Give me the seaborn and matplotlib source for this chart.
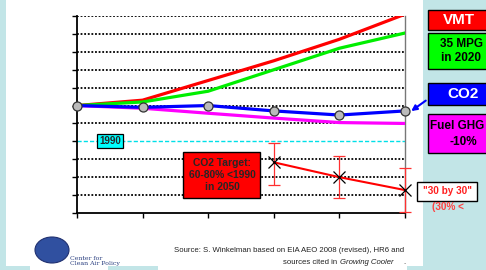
import numpy as np
import pandas as pd
import matplotlib
matplotlib.use("Agg")
import matplotlib.pyplot as plt
from matplotlib.patches import Rectangle, Ellipse
import seaborn as sns

# data (index units, 1 gridline = 1 unit)
years = [2005, 2010, 2015, 2020, 2025, 2030]
vmt = [6.0, 6.3, 7.4, 8.5, 9.7, 11.1]
mpg35 = [6.0, 6.2, 6.8, 8.0, 9.2, 10.05]
co2 = [6.0, 5.9, 6.0, 5.7, 5.47, 5.7]
fuel_ghg = [6.0, 5.85, 5.57, 5.3, 5.05, 5.0]
level_1990 = 4.0
target_years = [2020, 2025, 2030]
target = [2.83, 2.0, 1.28]
target_lo = [1.25, 1.15, 1.2]
target_hi = [1.07, 1.2, 1.22]

sns.set_style("white")
plt.rcParams['font.family'] = ['Liberation Sans', 'DejaVu Sans']

teal = '#c2e5e7'
fig = plt.figure(figsize=(4.86, 2.70), dpi=100, facecolor=teal)
# white slide panel
fig.patches.append(Rectangle((6/486, 0), (423-6)/486, 1, transform=fig.transFigure,
                             facecolor='white', edgecolor='none', zorder=-5))
for x0, x1 in [(6, 30), (108, 158), (407, 423)]:
    fig.patches.append(Rectangle((x0/486, 0), (x1-x0)/486, 4/270, transform=fig.transFigure,
                                 facecolor=teal, edgecolor='none', zorder=-4))

ax = fig.add_axes([77/486, 57/270, 328/486, 197/270])
ax.set_facecolor('none')
ax.set_zorder(1)

df = pd.DataFrame({'year': years, 'VMT': vmt, 'MPG': mpg35, 'CO2': co2, 'Fuel': fuel_ghg})

# dotted gridlines
for yv in range(1, 12):
    if yv == 4:
        continue
    ax.axhline(yv, color='black', lw=1.3, ls=(0, (1, 1)), zorder=1)
ax.axhline(level_1990, color='#00e0e8', lw=1.0, ls=(0, (3, 1.5)), zorder=1)

sns.lineplot(data=df, x='year', y='Fuel', color='#ff00ff', lw=2.3, ax=ax, zorder=3)
sns.lineplot(data=df, x='year', y='VMT', color='#ff0000', lw=2.3, ax=ax, zorder=3)
sns.lineplot(data=df, x='year', y='MPG', color='#00ee00', lw=2.3, ax=ax, zorder=3)
sns.lineplot(data=df, x='year', y='CO2', color='#0000ff', lw=2.3, ax=ax, zorder=4,
             marker='o', markersize=6.5, markerfacecolor='#bbbbbb', markeredgecolor='#333333',
             markeredgewidth=0.9, clip_on=False)

# 2050 target path with ranges
ax.errorbar(target_years, target, yerr=[target_lo, target_hi], fmt='none', ecolor='#ff3030',
            elinewidth=0.9, capsize=4, capthick=0.9, zorder=4, clip_on=False)
sns.lineplot(x=target_years, y=target, color='#ff0000', lw=1.5, ax=ax, zorder=5,
             marker='x', markersize=8, markeredgecolor='black', markeredgewidth=0.9,
             clip_on=False)

ax.set_xlim(2005, 2030)
ax.set_ylim(0, 11)
ax.set_xticks(years)
ax.set_yticks(range(0, 12))
ax.set_xticklabels([])
ax.set_yticklabels([])
ax.set_xlabel('')
ax.set_ylabel('')
ax.tick_params(axis='both', direction='out', length=3.5, width=1, color='black',
               left=True, bottom=True)
for s in ['left', 'bottom']:
    ax.spines[s].set_color('black')
    ax.spines[s].set_linewidth(1.3)
ax.spines['right'].set_color('#777777')
ax.spines['right'].set_linewidth(1.0)
ax.spines['top'].set_visible(False)

ax.text(2007.5, level_1990, '1990', ha='center', va='center', fontsize=7, fontweight='bold',
        bbox=dict(boxstyle='square,pad=0.2', fc='#00ffff', ec='black', lw=0.9), zorder=6)
ax.text(2016.05, 2.12, 'CO2 Target:\n60-80% <1990\nin 2050', ha='center', va='center',
        fontsize=7.4, fontweight='bold', linespacing=1.3,
        bbox=dict(boxstyle='square,pad=0.5', fc='#ff0000', ec='black', lw=1.0), zorder=6)

# right-hand labels
def side_box(y0, y1, color):
    fig.patches.append(Rectangle((428/486, 1 - y1/270), 70/486, (y1 - y0)/270,
                                 transform=fig.transFigure, facecolor=color,
                                 edgecolor='black', lw=1.0, zorder=2))

side_box(10, 30, '#ff0000')
side_box(33, 69, '#00ff00')
side_box(83, 105, '#0000ff')
side_box(114, 153, '#ff00ff')
fig.text(459/486, 1 - 20/270, 'VMT', color='white', fontsize=11, fontweight='bold',
         ha='center', va='center')
fig.text(461/486, 1 - 51/270, '35 MPG\nin 2020', color='black', fontsize=8.5,
         fontweight='bold', ha='center', va='center', linespacing=1.15)
fig.text(463/486, 1 - 94/270, 'CO2', color='white', fontsize=11, fontweight='bold',
         ha='center', va='center')
fig.text(430/486, 1 - 126/270, 'Fuel GHG', color='black', fontsize=8.5,
         fontweight='bold', ha='left', va='center')
fig.text(463/486, 1 - 142/270, '-10%', color='black', fontsize=8.5,
         fontweight='bold', ha='center', va='center')
fig.patches.append(Rectangle((417/486, 1 - 200.5/270), 60/486, 18.5/270,
                             transform=fig.transFigure, facecolor='white',
                             edgecolor='black', lw=1.0, zorder=2))
fig.text(447/486, 1 - 191/270, '"30 by 30"', color='#ff2020', fontsize=7.2,
         fontweight='bold', ha='center', va='center')
fig.text(432/486, 1 - 207/270, '(30% <', color='#ff4040', fontsize=7.2,
         fontweight='bold', ha='left', va='center')
ax.annotate('', xy=(2030.3, co2[-1] - 0.1), xycoords='data',
            xytext=(428/486, 1 - 99/270), textcoords='figure fraction',
            arrowprops=dict(arrowstyle='-|>', color='#0000ff', lw=1.5, mutation_scale=8),
            annotation_clip=False)

# source note
fig.text(404/486, 1 - 250/270, 'Source: S. Winkelman based on EIA AEO 2008 (revised), HR6 and',
         fontsize=5.6, ha='right', va='center', color='#222222')
fig.text(339/486, 1 - 262/270, 'sources cited in ', fontsize=5.6, ha='right', va='center',
         color='#222222')
fig.text(340/486, 1 - 262/270, 'Growing Cooler', fontsize=5.6, ha='left', va='center',
         color='#222222', style='italic')
fig.text(403/486, 1 - 262/270, '.', fontsize=5.6, ha='left', va='center', color='#222222')

# logo stand-in
fig.patches.append(Ellipse((52/486, 1 - 250/270), 34/486, 26/270, transform=fig.transFigure,
                           facecolor='#3050a0', edgecolor='#203070', lw=0.8, zorder=2))
fig.text(70/486, 1 - 261/270, 'Center for\nClean Air Policy', fontsize=4.5, family='serif',
         color='#2a3f80', ha='left', va='center', linespacing=0.9)

fig.savefig('out.png', dpi=100, facecolor=fig.get_facecolor())
